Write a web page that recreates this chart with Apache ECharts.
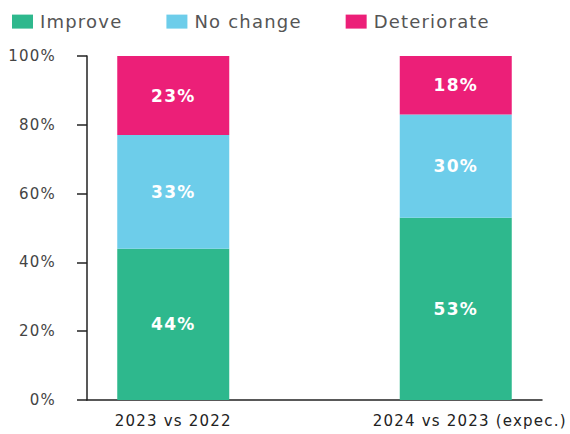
<!DOCTYPE html>
<html>
<head>
<meta charset="utf-8">
<script src="https://cdn.jsdelivr.net/npm/echarts@6/dist/echarts.min.js"></script>
<style>
  html, body { margin: 0; padding: 0; background: #fff; }
  #chart { width: 570px; height: 434px; }
  /* slightly tracked-out lettering for all chart text */
  #chart svg text { letter-spacing: 1.2px; }
</style>
</head>
<body>
<div id="chart"></div>
<script>
// Survey outlook: share of respondents by expected change
const categories = ['2023 vs 2022', '2024 vs 2023 (expec.)'];
const improve = [44, 53];
const noChange = [33, 30];
const deteriorate = [23, 18];
const yTicks = [0, 20, 40, 60, 80, 100];

const FONT = '"DejaVu Sans", sans-serif';
const LETTER_SPACING = 1.2;
const colors = { improve: '#2eb88d', noChange: '#6dcdea', deteriorate: '#ec1f78' };

// keep layout measurements in step with the tracked lettering
const measureCtx = document.createElement('canvas').getContext('2d');
echarts.setPlatformAPI({
  measureText(text, font) {
    measureCtx.font = font || '12px sans-serif';
    return { width: measureCtx.measureText(text).width + LETTER_SPACING * String(text).length };
  }
});

const chart = echarts.init(document.getElementById('chart'), null, { renderer: 'svg' });

const segmentLabel = {
  show: true,
  position: 'inside',
  color: '#ffffff',
  fontFamily: FONT,
  fontWeight: 'bold',
  fontSize: 17,
  formatter: p => p.value + '%'
};

function bar(name, data, color) {
  return {
    name, type: 'bar', stack: 'total', data,
    xAxisIndex: 1, yAxisIndex: 1,
    barWidth: 112,
    itemStyle: { color },
    label: segmentLabel
  };
}

chart.setOption({
  animation: false,
  legend: {
    left: 7, top: 7,
    itemWidth: 21, itemHeight: 14, itemGap: 44,
    icon: 'rect',
    textStyle: { fontFamily: FONT, fontSize: 18, color: '#555', padding: [0, 0, 0, 2] },
    data: ['Improve', 'No change', 'Deteriorate']
  },
  grid: [
    // frame with the visible axes
    { left: 87, right: 28, top: 56, bottom: 34, outerBoundsMode: 'none' },
    // bar placement, wider than the frame so bars sit inset from its ends
    { left: 32, width: 565, top: 56, bottom: 34, outerBoundsMode: 'none' }
  ],
  xAxis: [
    {
      gridIndex: 0, type: 'category', data: categories,
      axisLine: { lineStyle: { color: '#222', width: 1.5 } },
      axisTick: { show: false }, axisLabel: { show: false }
    },
    {
      gridIndex: 1, type: 'category', data: categories,
      axisLine: { show: false }, axisTick: { show: false },
      axisLabel: {
        interval: 0, hideOverlap: false,
        margin: 13, color: '#222', fontFamily: FONT, fontSize: 15,
        formatter: (v, i) => i === 1 ? '{b|' + v + '}' : v,
        rich: { b: { fontFamily: FONT, fontSize: 15, color: '#222', padding: [0, 0, 0, 28] } }
      }
    }
  ],
  yAxis: [
    {
      gridIndex: 0, type: 'value', min: yTicks[0], max: yTicks[yTicks.length - 1], interval: 20,
      axisLine: { show: true, lineStyle: { color: '#222', width: 1.5 } },
      axisTick: { show: true, length: 10, lineStyle: { color: '#222', width: 1.5 } },
      splitLine: { show: false },
      axisLabel: { margin: 31, color: '#444', fontFamily: FONT, fontSize: 15, formatter: '{value}%' }
    },
    {
      gridIndex: 1, type: 'value', min: 0, max: 100, show: false, splitLine: { show: false }
    }
  ],
  series: [
    bar('Improve', improve, colors.improve),
    bar('No change', noChange, colors.noChange),
    bar('Deteriorate', deteriorate, colors.deteriorate)
  ]
});
</script>
</body>
</html>
